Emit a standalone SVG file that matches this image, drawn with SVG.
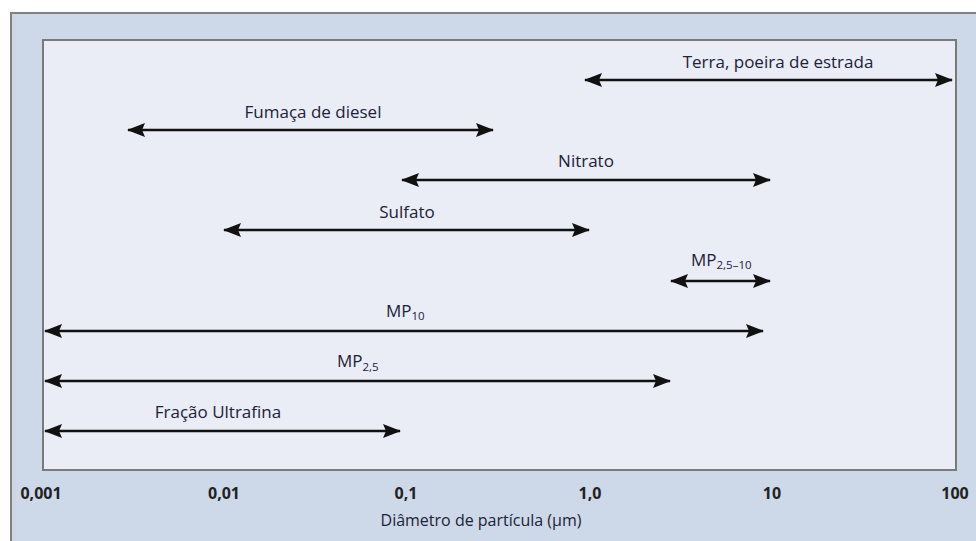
<svg xmlns="http://www.w3.org/2000/svg" width="976" height="541" viewBox="0 0 976 541">
<style>
.lbl{font-family:"Open Sans","Noto Sans","Liberation Sans",sans-serif;font-size:17px;fill:#1c2238}
.sub{font-size:11.5px}
.tick{font-family:"Open Sans","Noto Sans","Liberation Sans",sans-serif;font-size:16px;font-weight:bold;fill:#222;text-anchor:middle}
.axis{font-family:"Open Sans","Noto Sans","Liberation Sans",sans-serif;font-size:16px;fill:#1c2238}
.arr{stroke:#111;stroke-width:2.6;fill:none;marker-start:url(#ah);marker-end:url(#ah)}
</style>
<defs>
<marker id="ah" viewBox="0 0 18 14" refX="17" refY="7" markerWidth="18" markerHeight="14" markerUnits="userSpaceOnUse" orient="auto-start-reverse">
<path d="M0,0 L18,7 L0,14 L3,7 z" fill="#111"/>
</marker>
</defs>
<rect x="0" y="0" width="976" height="541" fill="#ffffff"/>
<rect x="11" y="13" width="967" height="540" fill="#cdd8e8" stroke="#808080" stroke-width="2"/>
<rect x="43" y="40" width="913" height="430" fill="#eaecf6" stroke="#7a7a7a" stroke-width="2"/>
<g id="connectors">
<line class="arr" x1="585" y1="80" x2="952" y2="80"/>
<line class="arr" x1="128" y1="130" x2="493" y2="130"/>
<line class="arr" x1="402" y1="180" x2="770" y2="180"/>
<line class="arr" x1="224" y1="230" x2="589" y2="230"/>
<line class="arr" x1="671" y1="281" x2="770" y2="281"/>
<line class="arr" x1="45" y1="331" x2="763" y2="331"/>
<line class="arr" x1="45" y1="381" x2="670" y2="381"/>
<line class="arr" x1="45" y1="431" x2="400" y2="431"/>
</g>
<g id="terra"><text class="lbl" x="778" y="68" text-anchor="middle">Terra, poeira de estrada</text></g>
<g id="diesel"><text class="lbl" x="313" y="118" text-anchor="middle">Fumaça de diesel</text></g>
<g id="nitrato"><text class="lbl" x="586" y="167" text-anchor="middle">Nitrato</text></g>
<g id="sulfato"><text class="lbl" x="407" y="218" text-anchor="middle">Sulfato</text></g>
<g id="mp2510"><text class="lbl" x="691" y="266">MP<tspan class="sub" dy="3">2,5–10</tspan></text></g>
<g id="mp10"><text class="lbl" x="386" y="317">MP<tspan class="sub" dy="3">10</tspan></text></g>
<g id="mp25"><text class="lbl" x="337" y="367">MP<tspan class="sub" dy="4">2,5</tspan></text></g>
<g id="ultrafina"><text class="lbl" x="218" y="418" text-anchor="middle">Fração Ultrafina</text></g>
<g id="axis">
<text class="tick" x="41" y="499">0,001</text>
<text class="tick" x="224" y="499">0,01</text>
<text class="tick" x="406" y="499">0,1</text>
<text class="tick" x="590" y="499">1,0</text>
<text class="tick" x="772" y="499">10</text>
<text class="tick" x="955" y="499">100</text>
<text class="axis" x="481" y="526" text-anchor="middle">Diâmetro de partícula (µm)</text>
</g>
</svg>
